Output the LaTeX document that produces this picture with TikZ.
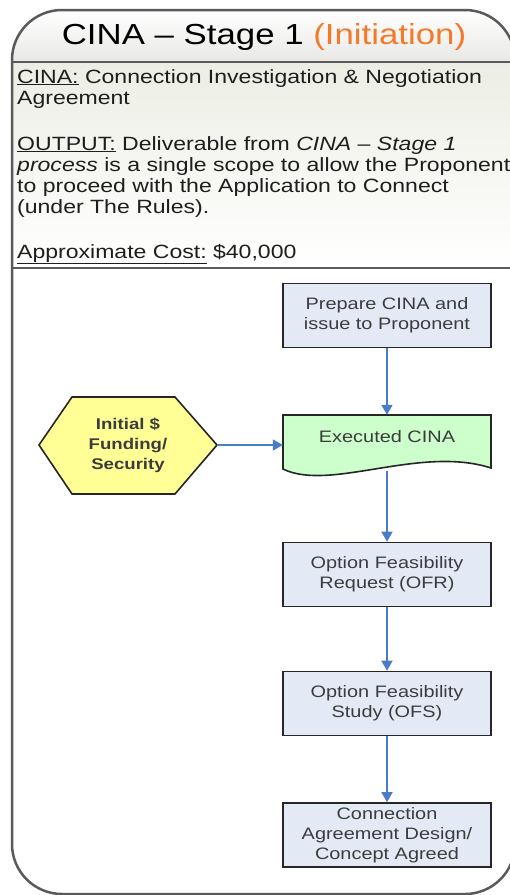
\documentclass[tikz,border=0pt]{standalone}
\usepackage{fontspec}
\setmainfont{Liberation Sans}[FakeStretch=1.2]
\usetikzlibrary{arrows.meta}
\definecolor{frameC}{RGB}{90,90,90}
\definecolor{orangeT}{RGB}{244,122,42}
\definecolor{boxF}{RGB}{228,234,245}
\definecolor{hexF}{RGB}{255,255,150}
\definecolor{docF}{RGB}{204,255,204}
\definecolor{arrC}{RGB}{74,124,200}
\definecolor{txtC}{RGB}{60,60,60}
\definecolor{bodyC}{RGB}{30,30,30}
\definecolor{olive}{RGB}{236,238,228}
\definecolor{hdr}{RGB}{232,232,230}
\tikzset{
  procbox/.style={draw=black!85, line width=1.6pt, fill=boxF, minimum width=208pt, minimum height=64pt, align=center, font=\fontsize{16.6}{20}\selectfont, text=txtC, inner sep=0pt},
  flow/.style={draw=arrC, line width=1.8pt, -{Triangle[length=10pt,width=11pt]}},
  bodytxt/.style={anchor=base west, inner sep=0pt, font=\fontsize{19.2}{21}\selectfont, text=bodyC},
}
\begin{document}
\begin{tikzpicture}[x=1pt,y=-1pt]
\useasboundingbox (0,0) rectangle (510,895);
\clip (0,0) rectangle (510,895);
% backgrounds
\begin{scope}
  \clip[rounded corners=50pt] (12,894) -- (12,10) -- (515,10) -- (515,894) -- cycle;
  \fill[top color=white, bottom color=hdr] (0,10) rectangle (520,62);
  \fill[top color=olive, bottom color=white] (0,62) rectangle (520,268);
\end{scope}
\draw[frameC, line width=2.5pt, rounded corners=50pt] (12,894) -- (12,10) -- (515,10) -- (515,894) -- cycle;
\draw[frameC, line width=2pt] (12,62) -- (515,62);
\draw[frameC, line width=2pt] (12,268) -- (515,268);
% title
\node[anchor=base, inner sep=0pt, font=\fontsize{29}{32}\selectfont] (title) at (264,44) {CINA -- Stage 1 \textcolor{orangeT}{(Initiation)}};
% body text
\node[bodytxt] (t1) at (17,83) {\underline{CINA:} Connection Investigation \& Negotiation};
\node[bodytxt] (t2) at (17,104) {Agreement};
\node[bodytxt] (t3) at (17,150) {\underline{OUTPUT:} Deliverable from \textit{CINA -- Stage 1}};
\node[bodytxt] (t4) at (17,171) {\textit{process} is a single scope to allow the Proponent};
\node[bodytxt] (t5) at (17,192) {to proceed with the Application to Connect};
\node[bodytxt] (t6) at (17,213) {(under The Rules).};
\node[bodytxt] (t7) at (17,258) {\underline{Approximate Cost:} \$40,000};
% process boxes
\node[procbox] (prep) at (387,315.5) {Prepare CINA and\\issue to Proponent};
\node[procbox] (ofr) at (387,574.5) {Option Feasibility\\Request (OFR)};
\node[procbox] (ofs) at (387,703.5) {Option Feasibility\\Study (OFS)};
\node[procbox] (ca) at (387,835) {Connection\\Agreement Design/\\Concept Agreed};
% document shape
\draw[black!85, line width=1.6pt, fill=docF] (283,415) -- (491,415) -- (491,468)
   .. controls (420,445) and (330,492) .. (283,469) -- cycle;
\node[inner sep=0pt, minimum width=208pt, minimum height=44pt, font=\fontsize{16.6}{20}\selectfont, text=txtC] (exec) at (387,437) {Executed CINA};
\coordinate (execbot) at (387,471);
% hexagon
\draw[black!85, line width=1.6pt, fill=hexF] (39,445) -- (72,397) -- (175,397) -- (217,445) -- (175,494) -- (72,494) -- cycle;
\node[align=center, inner sep=0pt, font=\bfseries\fontsize{15.5}{20}\selectfont, text=txtC] (hex) at (128,445) {Initial \$\\Funding/\\Security};
\coordinate (hexE) at (217,445);
% connectors
\draw[flow] (prep.south) -- (exec.north);
\draw[flow] (hexE) -- (hexE -| exec.west);
\draw[flow] (execbot) -- (ofr.north);
\draw[flow] (ofr.south) -- (ofs.north);
\draw[flow] (ofs.south) -- (ca.north);
\end{tikzpicture}
\end{document}
